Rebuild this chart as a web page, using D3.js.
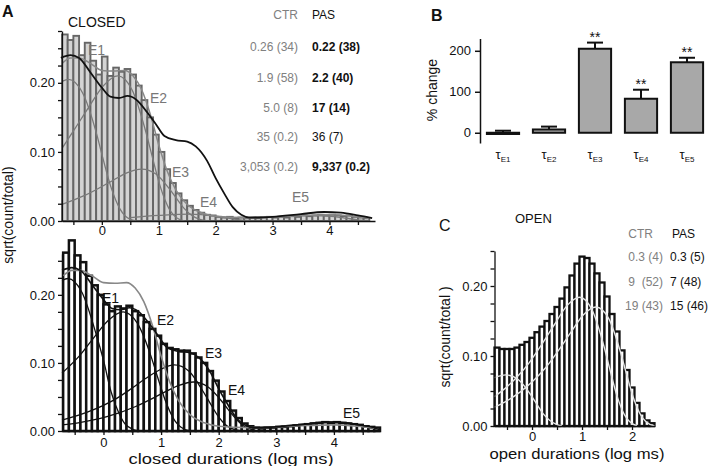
<!DOCTYPE html>
<html><head><meta charset="utf-8">
<script src="https://cdn.jsdelivr.net/npm/d3@7"></script>
<style>body{margin:0;background:#fff} svg{display:block;font-family:"Liberation Sans",Arial,sans-serif}</style>
</head><body><svg id="c" width="720" height="466"></svg>
<script>
// ---------- DATA ----------
// Panel A: closed-duration histograms, 0.1 log-unit bins
const closedTopStart = -0.7;
const closedCTRBars = [0.270,0.262,0.268,0.240,0.258,0.232,0.212,0.238,0.210,0.222,0.216,0.220,0.212,0.196,0.175,0.150,0.125,0.100,0.075,0.055,0.040,0.030,0.022,0.016,0.012,0.009,0.008,0.006,0.005,0.006,0.004,0.005,0.004,0.005,0.004,0.005,0.006,0.005,0.006,0.005,0.007,0.006,0.008,0.007,0.008,0.009,0.008,0.009,0.008,0.007,0.008,0.006,0.005,0.004];
const closedPASBars = [0.262,0.280,0.258,0.248,0.228,0.214,0.200,0.186,0.176,0.183,0.180,0.184,0.176,0.170,0.160,0.150,0.140,0.128,0.122,0.120,0.118,0.118,0.114,0.108,0.100,0.088,0.074,0.058,0.044,0.030,0.019,0.011,0.007,0.005,0.004,0.005,0.005,0.006,0.006,0.007,0.008,0.009,0.010,0.011,0.012,0.013,0.012,0.013,0.012,0.011,0.010,0.009,0.007,0.006,0.005];
// Fitted curves [log ms, sqrt(count/total)]
const ctrTotal = [[-0.7,0.228],[-0.55,0.236],[-0.4,0.236],[-0.2,0.228],[0,0.218],[0.2,0.217],[0.4,0.218],[0.55,0.21],[0.7,0.19],[0.85,0.155],[1.0,0.11],[1.15,0.072],[1.3,0.045],[1.5,0.024],[1.75,0.012],[2.0,0.007],[2.5,0.005],[3.0,0.006],[3.5,0.008],[4.0,0.009],[4.4,0.007],[4.7,0.004]];
const pasTotal = [[-0.72,0.236],[-0.55,0.240],[-0.4,0.236],[-0.2,0.215],[0,0.193],[0.15,0.180],[0.3,0.178],[0.45,0.181],[0.6,0.176],[0.8,0.157],[0.95,0.140],[1.1,0.123],[1.3,0.117],[1.5,0.115],[1.65,0.108],[1.85,0.087],[2.0,0.062],[2.15,0.040],[2.3,0.020],[2.45,0.009],[2.6,0.005],[3.0,0.006],[3.5,0.010],[3.9,0.013],[4.2,0.012],[4.5,0.008],[4.75,0.004]];
const ctrE1 = [[-0.7,0.202],[-0.585,0.205],[-0.335,0.185],[-0.085,0.124],[0.015,0.092],[0.165,0.048],[0.315,0.018],[0.415,0.007],[0.6,0.0]];
const ctrE2 = [[-0.7,0.105],[-0.47,0.134],[-0.22,0.166],[0.03,0.196],[0.28,0.21],[0.53,0.19],[0.78,0.127],[0.88,0.095],[1.03,0.049],[1.18,0.018],[1.28,0.007],[1.45,0.0]];
const ctrE3 = [[-0.7,0.024],[-0.3,0.037],[0.2,0.059],[0.45,0.070],[0.7,0.075],[0.95,0.068],[1.2,0.045],[1.3,0.034],[1.45,0.018],[1.6,0.007],[1.7,0.003],[1.9,0.0]];
const ctrE4 = [[0.5,0.005],[1.0,0.008],[1.54,0.010],[2.0,0.007],[2.3,0.003],[2.6,0.0]];
const ctrE5 = [[2.5,0.004],[3.0,0.006],[3.48,0.008],[3.98,0.0072],[4.3,0.004],[4.5,0.0015],[4.7,0.0]];
const pasE1 = [[-0.72,0.221],[-0.62,0.224],[-0.37,0.203],[-0.12,0.140],[0.0,0.104],[0.13,0.058],[0.28,0.024],[0.38,0.010],[0.6,0.0]];
const pasE2 = [[-0.72,0.085],[-0.41,0.111],[-0.16,0.138],[0.09,0.163],[0.34,0.175],[0.59,0.158],[0.84,0.106],[0.94,0.079],[1.09,0.041],[1.24,0.015],[1.34,0.006],[1.5,0.0]];
const pasE3 = [[-0.72,0.016],[-0.27,0.028],[0.23,0.048],[0.48,0.062],[0.73,0.077],[0.98,0.090],[1.23,0.097],[1.48,0.088],[1.73,0.058],[1.83,0.044],[1.98,0.023],[2.13,0.0085],[2.23,0.0034],[2.4,0.0]];
const pasE4 = [[-0.72,0.009],[-0.44,0.012],[0.06,0.021],[0.56,0.036],[0.81,0.046],[1.06,0.057],[1.31,0.067],[1.56,0.072],[1.81,0.065],[2.06,0.043],[2.16,0.032],[2.31,0.017],[2.46,0.006],[2.56,0.0025],[2.7,0.0]];
const pasE5 = [[2.5,0.004],[2.97,0.0065],[3.47,0.010],[3.72,0.012],[3.97,0.013],[4.22,0.0118],[4.47,0.0078],[4.72,0.003],[4.8,0.002]];
const closedCTRtable = ["0.26 (34)","1.9 (58)","5.0 (8)","35 (0.2)","3,053 (0.2)"];
const closedPAStable = ["0.22 (38)","2.2 (40)","17 (14)","36 (7)","9,337 (0.2)"];
const closedPASbold = [true,true,true,false,true];

// Panel B: % change of time constants
const tauNames = ["E1","E2","E3","E4","E5"];
const pctChange = [-3, 8, 205, 83, 172];
const pctErr = [5, 7, 15, 22, 11];
const pctSig = ["", "", "**", "**", "**"];
const bTicks = [0, 100, 200];

// Panel C: open-duration histogram
const openStart = -0.75;
const openBars = [0.112,0.110,0.110,0.110,0.112,0.116,0.120,0.126,0.134,0.142,0.150,0.160,0.170,0.182,0.198,0.215,0.232,0.242,0.240,0.232,0.218,0.205,0.185,0.160,0.135,0.108,0.080,0.055,0.033,0.018,0.008,0.004];
const openC1 = [[-0.75,0.069],[-0.52,0.073],[-0.27,0.066],[-0.02,0.044],[0.08,0.033],[0.23,0.017],[0.48,0.0026],[0.6,0.0]];
const openC2 = [[-0.75,0.042],[-0.55,0.053],[-0.3,0.070],[-0.05,0.091],[0.2,0.117],[0.45,0.145],[0.7,0.172],[0.95,0.184],[1.2,0.166],[1.45,0.111],[1.55,0.083],[1.7,0.043],[1.85,0.016],[1.95,0.0064],[2.1,0.0]];
const openC3 = [[-0.75,0.027],[-0.5,0.036],[0,0.063],[0.28,0.084],[0.53,0.108],[0.78,0.134],[1.03,0.159],[1.28,0.170],[1.53,0.154],[1.78,0.103],[1.88,0.077],[2.03,0.040],[2.18,0.015],[2.28,0.006],[2.45,0.0]];
const openCTRtable = ["0.3 (4)","9  (52)","19 (43)"];
const openPAStable = ["0.3 (5)","7 (48)","15 (46)"];

// ---------- DRAW ----------
const svg = d3.select("#c");
const FS = 13;
const gray = "#808080";

function yAxisSqrt(g, y, maxV) {
  const vals = d3.range(0, maxV + 1e-9, 0.025);
  g.call(d3.axisLeft(y).tickValues(vals).tickSize(4).tickSizeOuter(0)
      .tickFormat(d => (Math.abs(d*10 - Math.round(d*10)) < 1e-6) ? d3.format(".2f")(d) : ""))
   .call(s => s.selectAll("text").attr("font-size", FS).attr("fill","#111"))
   .call(s => s.selectAll("path,line").attr("stroke","#111").attr("stroke-width",1.3));
}
function xAxisLog(g, x, vals, pad) {
  g.call(d3.axisBottom(x).tickValues(vals).tickSize(4).tickSizeOuter(0).tickPadding(pad)
      .tickFormat(d => Number.isInteger(d) ? d : ""))
   .call(s => s.selectAll("text").attr("font-size", FS).attr("fill","#111"))
   .call(s => s.selectAll("path,line").attr("stroke","#111").attr("stroke-width",1.3));
}
function bars(g, x, y, start, vals, w, stroke, fill, sw) {
  g.selectAll("rect").data(vals).join("rect")
    .attr("x", (d,i) => x(start + i*w))
    .attr("width", (d,i) => x(start + (i+1)*w) - x(start + i*w))
    .attr("y", d => y(d)).attr("height", d => y(0) - y(d))
    .attr("fill", fill).attr("stroke", stroke).attr("stroke-width", sw);
}
function curve(g, x, y, pts, color, w) {
  g.append("path").datum(pts)
    .attr("d", d3.line().x(d => x(d[0])).y(d => y(d[1])).curve(d3.curveMonotoneX))
    .attr("fill","none").attr("stroke",color).attr("stroke-width",w);
}
function txt(x, y, s, opt={}) {
  return svg.append("text").attr("x",x).attr("y",y).text(s)
    .attr("font-size", opt.size || FS).attr("fill", opt.color || "#111")
    .attr("font-weight", opt.bold ? "bold" : "normal")
    .attr("text-anchor", opt.anchor || "start");
}

// Panel A top
const xA1 = d3.scaleLinear().domain([-0.7, 4.8]).range([62, 375]);
const yA1 = d3.scaleLinear().domain([0, 0.275]).range([221, 31]);
const gA1 = svg.append("g");
bars(gA1.append("g"), xA1, yA1, closedTopStart, closedCTRBars, 0.1, "#666", "#d4d4d4", 1.9);
[ctrE1, ctrE2, ctrE3, ctrE4, ctrE5].forEach(c => curve(gA1, xA1, yA1, c, "#7a7a7a", 1.3));
curve(gA1, xA1, yA1, ctrTotal, "#888", 1.5);
curve(gA1, xA1, yA1, pasTotal, "#111", 1.8);
gA1.append("g").attr("transform","translate(62,0)").call(g => yAxisSqrt(g, yA1, 0.275));
gA1.append("g").attr("transform","translate(0,221)").call(g => xAxisLog(g, xA1, d3.range(-0.5, 4.6, 0.5), 1));

// Panel A bottom
const xA2 = d3.scaleLinear().domain([-0.72, 4.8]).range([62, 380]);
const yA2 = d3.scaleLinear().domain([0, 0.26]).range([431, 254]);
const gA2 = svg.append("g");
bars(gA2.append("g"), xA2, yA2, closedTopStart, closedPASBars, 0.1, "#111", "#fff", 2.5);
[pasE1, pasE2, pasE3, pasE4, pasE5].forEach(c => curve(gA2, xA2, yA2, c, "#111", 1.3));
curve(gA2, xA2, yA2, ctrTotal, "#888", 1.6);
curve(gA2, xA2, yA2, pasTotal, "#111", 1.6);
gA2.append("g").attr("transform","translate(62,0)").call(g => yAxisSqrt(g, yA2, 0.25));
gA2.append("g").attr("transform","translate(0,431)").call(g => xAxisLog(g, xA2, d3.range(-0.5, 4.6, 0.5), 3));

// Panel A texts
txt(2, 17, "A", {size:16, bold:true});
txt(68, 27, "CLOSED", {size:14});
txt(298, 19, "CTR", {size:12, color:gray, anchor:"end"});
txt(312, 19, "PAS", {size:12});
const rowY = [51, 82, 112, 141, 171];
closedCTRtable.forEach((s,i) => txt(298, rowY[i], s, {size:12, color:gray, anchor:"end"}));
closedPAStable.forEach((s,i) => txt(312, rowY[i], s, {size:12, bold:closedPASbold[i]}));
[["E1",88,55],["E2",150,103],["E3",172,177],["E4",200,207],["E5",292,202]].forEach(d => txt(d[1], d[2], d[0], {size:14, color:"#777"}));
[["E1",102,303],["E2",157,325],["E3",205,358],["E4",228,395],["E5",343,418]].forEach(d => txt(d[1], d[2], d[0], {size:14}));
svg.append("text").attr("transform","translate(13,215) rotate(-90)").attr("text-anchor","middle")
  .attr("font-size",14).attr("fill","#111").text("sqrt(count/total)");
txt(231, 464, "closed durations (log ms)", {size:14, anchor:"middle"}).attr("textLength",205).attr("lengthAdjust","spacingAndGlyphs");

// Panel B
const xB = d3.scaleBand().domain(tauNames).range([480, 710]).paddingInner(0.3).paddingOuter(0.15);
const yB = d3.scaleLinear().domain([-25, 230]).range([143, 38.5]);
const gB = svg.append("g");
gB.selectAll("line.err").data(tauNames).join("line")
  .attr("x1", d => xB(d) + xB.bandwidth()/2).attr("x2", d => xB(d) + xB.bandwidth()/2)
  .attr("y1", (d,i) => yB(Math.max(pctChange[i],0))).attr("y2", (d,i) => yB(Math.max(pctChange[i],0) + pctErr[i]))
  .attr("stroke","#111").attr("stroke-width",2);
gB.selectAll("line.cap").data(tauNames).join("line")
  .attr("x1", d => xB(d) + xB.bandwidth()/2 - 8).attr("x2", d => xB(d) + xB.bandwidth()/2 + 8)
  .attr("y1", (d,i) => yB(Math.max(pctChange[i],0) + pctErr[i])).attr("y2", (d,i) => yB(Math.max(pctChange[i],0) + pctErr[i]))
  .attr("stroke","#111").attr("stroke-width",2);
gB.selectAll("rect").data(tauNames).join("rect")
  .attr("x", d => xB(d)).attr("width", xB.bandwidth())
  .attr("y", (d,i) => yB(Math.max(pctChange[i],0))).attr("height", (d,i) => Math.abs(yB(pctChange[i]) - yB(0)))
  .attr("fill","#a8a8a8").attr("stroke","#111").attr("stroke-width",2);
gB.selectAll("text.sig").data(tauNames).join("text")
  .attr("x", d => xB(d) + xB.bandwidth()/2).attr("y", (d,i) => yB(Math.max(pctChange[i],0) + pctErr[i]) - 1)
  .attr("text-anchor","middle").attr("font-size",14).attr("fill","#111").text((d,i) => pctSig[i]);
gB.append("g").attr("transform","translate(480,0)")
  .call(d3.axisLeft(yB).tickValues(bTicks).tickSize(5).tickSizeOuter(0).tickPadding(4))
  .call(s => s.selectAll("text").attr("font-size",13).attr("fill","#111"))
  .call(s => s.selectAll("path,line").attr("stroke","#111").attr("stroke-width",1.5));
tauNames.forEach(n => {
  const t = svg.append("text").attr("x", xB(n) + xB.bandwidth()/2).attr("y", 159).attr("text-anchor","middle")
    .attr("font-size",13).attr("fill","#111");
  t.append("tspan").text("τ");
  t.append("tspan").attr("font-size",8).attr("dy",3).text(n);
});
svg.append("text").attr("transform","translate(437,90) rotate(-90)").attr("text-anchor","middle")
  .attr("font-size",14).attr("fill","#111").text("% change");
txt(431, 21, "B", {size:16, bold:true});

// Panel C
const xC = d3.scaleLinear().domain([-0.75, 2.45]).range([494.5, 654.5]);
const yC = d3.scaleLinear().domain([0, 0.25]).range([426, 251]);
const gC = svg.append("g");
bars(gC.append("g"), xC, yC, openStart, openBars, 0.1, "#111", "#fff", 2.3);
[openC1, openC2, openC3].forEach(c => curve(gC, xC, yC, c, "#e4e4e4", 1.4));
gC.append("g").attr("transform","translate(494.5,0)").call(g => yAxisSqrt(g, yC, 0.25));
gC.append("g").attr("transform","translate(0,426)").call(g => xAxisLog(g, xC, d3.range(-0.5, 2.1, 0.5), 2));
txt(439, 231, "C", {size:16});
txt(515, 223, "OPEN", {size:13});
txt(653, 238, "CTR", {size:12, color:gray, anchor:"end"});
txt(672, 238, "PAS", {size:12});
const rowC = [261, 286, 310];
openCTRtable.forEach((s,i) => txt(663, rowC[i], s, {size:12, color:gray, anchor:"end"}).attr("xml:space","preserve"));
openPAStable.forEach((s,i) => txt(670, rowC[i], s, {size:12}));
svg.append("text").attr("transform","translate(450,337) rotate(-90)").attr("text-anchor","middle")
  .attr("font-size",14).attr("fill","#111").text("sqrt(count/total )");
txt(577, 459, "open durations (log ms)", {size:14, anchor:"middle"}).attr("textLength",175).attr("lengthAdjust","spacingAndGlyphs");
</script></body></html>
